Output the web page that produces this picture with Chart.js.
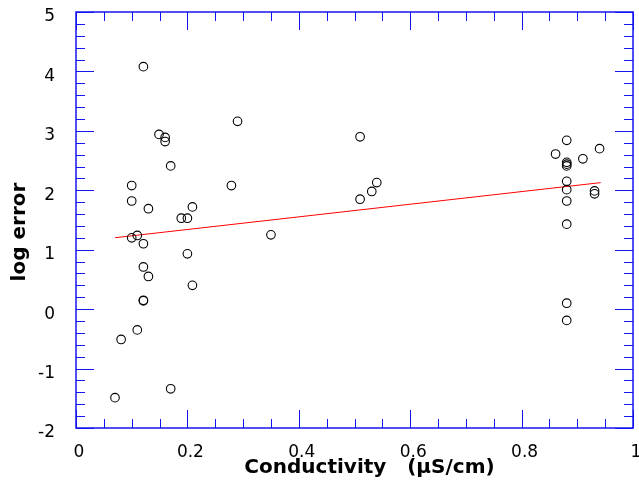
<!DOCTYPE html>
<html><head><meta charset="utf-8">
<script src="https://cdn.jsdelivr.net/npm/chart.js@4/dist/chart.umd.min.js"></script>
<style>html,body{margin:0;padding:0;background:#fff}</style>
</head><body>
<canvas id="c" width="639" height="491"></canvas>
<script>
// ---- data ----
const conductivity = [
  0.121, 0.290, 0.149, 0.160, 0.160, 0.170, 0.100, 0.279, 0.100, 0.130,
  0.209, 0.189, 0.200, 0.100, 0.110, 0.121, 0.350, 0.200, 0.121, 0.130,
  0.209, 0.121, 0.121, 0.110, 0.081, 0.170, 0.070,
  0.510, 0.540, 0.531, 0.510,
  0.881, 0.861, 0.910, 0.940, 0.881, 0.881, 0.881, 0.881, 0.881, 0.881,
  0.881, 0.931, 0.931, 0.881, 0.881
];
const logError = [
  4.08, 3.16, 2.94, 2.89, 2.82, 2.41, 2.08, 2.08, 1.82, 1.69,
  1.72, 1.53, 1.53, 1.20, 1.24, 1.10, 1.25, 0.93, 0.71, 0.55,
  0.40, 0.14, 0.15, -0.35, -0.51, -1.34, -1.49,
  2.90, 2.13, 1.98, 1.85,
  2.84, 2.61, 2.53, 2.70, 2.47, 2.44, 2.41, 2.15, 2.01, 1.82,
  1.43, 1.99, 1.94, 0.10, -0.19
];
const fitConductivity = [0.070, 0.942];
const fitLogError = [1.202, 2.129];
const xTickValues = [0, 0.2, 0.4, 0.6, 0.8, 1];
const xTickLabels = ['0', '0.2', '0.4', '0.6', '0.8', '1'];
const yTickValues = [-2, -1, 0, 1, 2, 3, 4, 5];
const yTickLabels = ['-2', '-1', '0', '1', '2', '3', '4', '5'];
const xTitle = 'Conductivity   (\u00B5S/cm)';
const yTitle = 'log error';

// ---- styling ----
const AXIS_BLUE = '#1414f0';
const TICK_FONT = {family: '"DejaVu Sans", sans-serif', size: 17};

function noPad(s) {
  s.paddingTop = 0; s.paddingBottom = 0; s.paddingLeft = 0; s.paddingRight = 0;
}

const framePlugin = {
  id: 'frame',
  beforeDatasetsDraw(chart) {
    const {ctx, chartArea: a, scales: {x, y}} = chart;
    ctx.save();
    ctx.strokeStyle = AXIS_BLUE;
    ctx.lineWidth = 1;
    ctx.beginPath();
    for (let k = 0; k <= 20; k++) {
      const px = Math.round(x.getPixelForValue(k * 0.05)) + 0.5;
      const len = (k % 4 === 0) ? 18 : 9;
      ctx.moveTo(px, a.bottom); ctx.lineTo(px, a.bottom - len);
      ctx.moveTo(px, a.top); ctx.lineTo(px, a.top + len);
    }
    for (let k = 0; k <= 35; k++) {
      const py = Math.round(y.getPixelForValue(-2 + k * 0.2)) + 0.5;
      const len = (k % 5 === 0) ? 18 : 9;
      ctx.moveTo(a.left, py); ctx.lineTo(a.left + len, py);
      ctx.moveTo(a.right, py); ctx.lineTo(a.right - len, py);
    }
    ctx.stroke();
    ctx.lineWidth = 1.5;
    ctx.strokeRect(a.left, a.top, a.right - a.left, a.bottom - a.top);
    ctx.restore();
  },
  afterDraw(chart) {
    const {ctx, chartArea: a} = chart;
    ctx.save();
    ctx.fillStyle = '#000';
    ctx.font = 'bold 20px "DejaVu Sans", sans-serif';
    ctx.textAlign = 'center';
    ctx.textBaseline = 'alphabetic';
    ctx.fillText(xTitle, (a.left + a.right) / 2 + 15, a.bottom + 45);
    ctx.translate(25, (a.top + a.bottom) / 2 + 12);
    ctx.rotate(-Math.PI / 2);
    ctx.fillText(yTitle, 0, 0);
    ctx.restore();
  }
};

new Chart(document.getElementById('c'), {
  type: 'scatter',
  data: {
    datasets: [
      {
        label: 'log error',
        data: conductivity.map((v, i) => ({x: v, y: logError[i]})),
        pointStyle: 'circle',
        pointRadius: 4.3,
        pointHoverRadius: 4.3,
        borderColor: '#000',
        backgroundColor: 'rgba(0,0,0,0)',
        borderWidth: 1.1,
        showLine: false,
        order: 1
      },
      {
        label: 'fit',
        type: 'line',
        data: fitConductivity.map((v, i) => ({x: v, y: fitLogError[i]})),
        borderColor: '#ff0000',
        borderWidth: 1,
        pointRadius: 0,
        fill: false,
        order: 2
      }
    ]
  },
  options: {
    responsive: false,
    animation: false,
    devicePixelRatio: 1,
    layout: {autoPadding: false, padding: {left: 0, right: 6, top: 12, bottom: 0}},
    plugins: {legend: {display: false}, tooltip: {enabled: false}},
    scales: {
      x: {
        type: 'linear', min: 0, max: 1,
        afterBuildTicks: s => { s.ticks = xTickValues.map(v => ({value: v})); },
        afterFit: s => { s.height = 63; noPad(s); },
        grid: {display: false, drawTicks: false},
        border: {display: false},
        ticks: {
          font: TICK_FONT, color: '#000', padding: 14, labelOffset: 3,
          maxRotation: 0, autoSkip: false,
          callback: (v, i) => xTickLabels[i]
        }
      },
      y: {
        type: 'linear', min: -2, max: 5,
        afterBuildTicks: s => { s.ticks = yTickValues.map(v => ({value: v})); },
        afterFit: s => { s.width = 76; noPad(s); },
        grid: {display: false, drawTicks: false},
        border: {display: false},
        ticks: {
          font: TICK_FONT, color: '#000', padding: 21, labelOffset: 5,
          autoSkip: false,
          callback: (v, i) => yTickLabels[i]
        }
      }
    }
  },
  plugins: [framePlugin]
});
</script>
</body></html>
